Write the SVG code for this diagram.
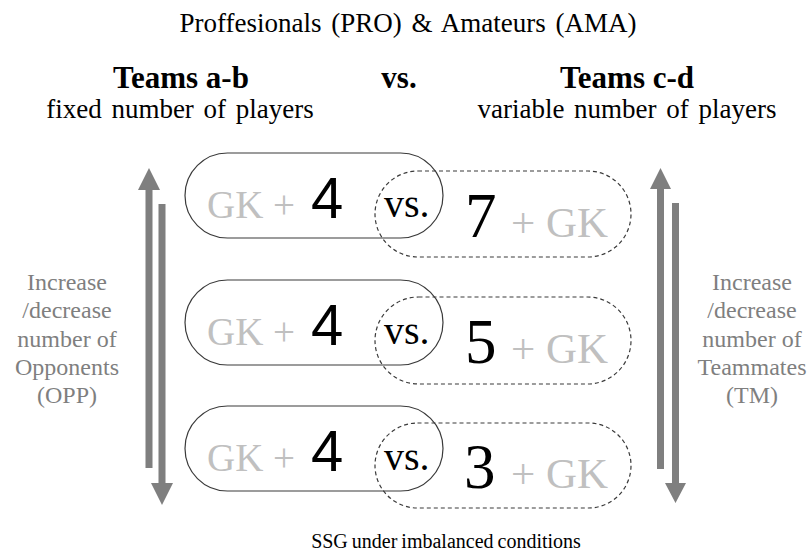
<svg xmlns="http://www.w3.org/2000/svg" width="807" height="556" viewBox="0 0 807 556">
<style>
.serif{font-family:"Liberation Serif","Times New Roman",serif}
.sans{font-family:"Liberation Sans",Arial,sans-serif}
.head{font-size:27px;fill:#000}
.bold{font-size:31px;font-weight:bold;fill:#000}
.side{font-size:24px;fill:#7f7f7f;text-anchor:middle}
.gk{font-size:39px;fill:#c0c0c0}
.gkr{font-size:43px;fill:#c0c0c0}
.four{font-size:58px;fill:#000}
.num{font-size:63px;fill:#000}
.vs{font-size:40px;fill:#000}
.solid{fill:none;stroke:#3a3a3a;stroke-width:1.2}
.dash{fill:none;stroke:#3a3a3a;stroke-width:1.2;stroke-dasharray:4 3}
.arr{fill:#7f7f7f}
</style>
<rect width="807" height="556" fill="#fff"/>
<g id="titles">
<text class="serif head" x="408" y="32" text-anchor="middle" word-spacing="3">Proffesionals (PRO) &amp; Amateurs (AMA)</text>
<text class="serif bold" x="181" y="88" text-anchor="middle">Teams a-b</text>
<text class="serif bold" x="399" y="88" text-anchor="middle">vs.</text>
<text class="serif bold" x="627" y="88" text-anchor="middle">Teams c-d</text>
<text class="serif head" x="180" y="118" text-anchor="middle" word-spacing="3">fixed number of players</text>
<text class="serif head" x="627" y="118" text-anchor="middle" word-spacing="3">variable number of players</text>
</g>
<g id="connectors">
<path class="arr" d="M145.5,468 V190 H138 L149,168 L160,190 H152.5 V468 Z"/>
<path class="arr" d="M158.5,204 V483 H151 L162,505 L173,483 H165.5 V204 Z"/>
<path class="arr" d="M657,469 V189 H650 L660.5,168 L671,189 H664 V469 Z"/>
<path class="arr" d="M672,203 V483 H665 L675.5,503 L686,483 H679 V203 Z"/>
</g>
<g id="label-left">
<text class="serif side" x="67" y="290">Increase</text>
<text class="serif side" x="67" y="318">/decrease</text>
<text class="serif side" x="67" y="347">number of</text>
<text class="serif side" x="67" y="375">Opponents</text>
<text class="serif side" x="67" y="403">(OPP)</text>
</g>
<g id="label-right">
<text class="serif side" x="752" y="290">Increase</text>
<text class="serif side" x="752" y="318">/decrease</text>
<text class="serif side" x="752" y="347">number of</text>
<text class="serif side" x="752" y="375">Teammates</text>
<text class="serif side" x="752" y="403">(TM)</text>
</g>
<g id="row1">
<g id="row1-ab"><rect class="solid" x="185" y="153" width="258" height="85" rx="42.5"/>
<text class="serif gk" x="207" y="218">GK +</text><text class="sans four" x="311" y="218">4</text></g>
<g id="row1-cd"><rect class="dash" x="375" y="171" width="256" height="86" rx="43"/>
<text class="serif num" x="465" y="237">7</text><text class="serif gkr" x="511" y="237">+ GK</text></g>
<text class="serif vs" x="384" y="217">vs.</text>
</g>
<g id="row2">
<g id="row2-ab"><rect class="solid" x="185" y="280" width="258" height="85" rx="42.5"/>
<text class="serif gk" x="207" y="345">GK +</text><text class="sans four" x="311" y="345">4</text></g>
<g id="row2-cd"><rect class="dash" x="375" y="297" width="256" height="87" rx="43.5"/>
<text class="serif num" x="465" y="363">5</text><text class="serif gkr" x="511" y="363">+ GK</text></g>
<text class="serif vs" x="384" y="344">vs.</text>
</g>
<g id="row3">
<g id="row3-ab"><rect class="solid" x="185" y="406" width="258" height="85" rx="42.5"/>
<text class="serif gk" x="207" y="471">GK +</text><text class="sans four" x="311" y="471">4</text></g>
<g id="row3-cd"><rect class="dash" x="375" y="423" width="256" height="85" rx="42.5"/>
<text class="serif num" x="464" y="488">3</text><text class="serif gkr" x="511" y="488">+ GK</text></g>
<text class="serif vs" x="384" y="470">vs.</text>
</g>
<text class="serif" x="446" y="548" text-anchor="middle" font-size="20" fill="#000" word-spacing="-1">SSG under imbalanced conditions</text>
</svg>
